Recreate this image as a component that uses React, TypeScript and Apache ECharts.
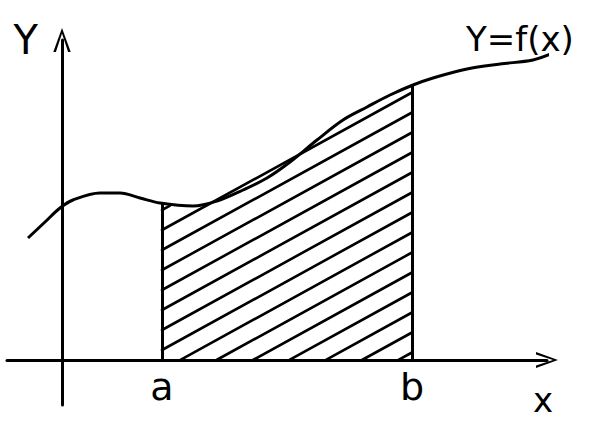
import { useEffect, useRef } from "react";
import * as echarts from "echarts";

// Curve y = f(x) (units: origin at axes crossing)
const curveX = [-0.68, -0.34, -0.04, 0.22, 0.76, 1.16, 1.56, 1.96, 2.62, 3.1, 3.62, 4.1, 4.56, 5.1, 5.62, 6.1, 6.56, 7.02, 7.42, 8.1, 8.76, 9.42, 9.82, 10.22, 10.62];
const curveY = [2.44, 2.76, 3.04, 3.2, 3.34, 3.34, 3.24, 3.14, 3.08, 3.18, 3.4, 3.64, 3.96, 4.4, 4.8, 5.06, 5.3, 5.5, 5.64, 5.82, 5.92, 6.0, 6.14, 6.36, 6.64];

// Integration bounds and their labels
const boundValues = [2, 7];
const boundLabels = ["a", "b"];
const xAxisName = "x";
const yAxisName = "Y";
const curveName = "Y=f(x)";

const FONT = "DejaVu Sans";

function f(x: number): number {
  for (let i = 0; i < curveX.length - 1; i++) {
    if (x >= curveX[i] && x <= curveX[i + 1]) {
      const t = (x - curveX[i]) / (curveX[i + 1] - curveX[i]);
      return curveY[i] + t * (curveY[i + 1] - curveY[i]);
    }
  }
  return x < curveX[0] ? curveY[0] : curveY[curveY.length - 1];
}

// Hatching of the region a <= x <= b, 0 <= y <= f(x)
function hatchSegments(): number[][] {
  const a = boundValues[0];
  const b = boundValues[1];
  const slope = 0.55;
  const step = 0.4;
  const segs: number[][] = [];
  for (let c = -2.6; c < f(a); c += step) {
    let x0: number | null = null;
    let x1: number | null = null;
    for (let i = 0; i <= 500; i++) {
      const x = a + ((b - a) * i) / 500;
      const y = c + slope * (x - a);
      if (y >= 0 && y <= f(x) - 0.03) {
        if (x0 === null) x0 = x;
        x1 = x;
      }
    }
    if (x0 !== null && x1 !== null && x1 - x0 > 0.05) {
      segs.push([x0, c + slope * (x0 - a), x1, c + slope * (x1 - a)]);
    }
  }
  return segs;
}

const chevron = "path://M8,0 L16,22 L13.6,22 L8,5 L2.4,22 L0,22 Z";

export default function App() {
  const ref = useRef<HTMLDivElement>(null);
  useEffect(() => {
    if (!ref.current) return;
    const chart = echarts.init(ref.current, undefined, { renderer: "svg" });
    const curveData = curveX.map((x, i) => [x, curveY[i]]);
    const boundLines = boundValues.map((v, i) => [
      { coord: [v, 0], name: boundLabels[i] },
      { coord: [v, f(v)] },
    ]);
    chart.setOption({
      animation: false,
      backgroundColor: "#fff",
      grid: {
        left: 7,
        right: 52,
        top: 40,
        bottom: 17,
        containLabel: false,
        outerBoundsMode: "none",
      },
      xAxis: {
        type: "value",
        min: -1.1,
        max: 9.7,
        splitLine: { show: false },
        axisTick: { show: false },
        axisLabel: { show: false },
        axisLine: {
          show: true,
          onZero: true,
          lineStyle: { color: "#000", width: 3 },
          symbol: ["none", chevron],
          symbolSize: [18, 22],
        },
      },
      yAxis: {
        type: "value",
        min: -0.9,
        max: 6.4,
        name: yAxisName,
        nameLocation: "end",
        nameGap: 0,
        nameTextStyle: {
          fontFamily: FONT,
          fontSize: 40,
          color: "#000",
          align: "right",
          verticalAlign: "middle",
          padding: [0, 24, 0, 0],
        },
        splitLine: { show: false },
        axisTick: { show: false },
        axisLabel: { show: false },
        axisLine: {
          show: true,
          onZero: true,
          lineStyle: { color: "#000", width: 3 },
          symbol: ["none", chevron],
          symbolSize: [18, 24],
        },
      },
      graphic: [
        {
          type: "text",
          left: 466,
          top: 22,
          style: {
            text: curveName,
            fontFamily: FONT,
            fontSize: 34,
            fill: "#000",
          },
        },
        {
          type: "text",
          x: 543,
          y: 400,
          style: {
            text: xAxisName,
            fontFamily: FONT,
            fontSize: 34,
            fill: "#000",
            align: "center",
            verticalAlign: "middle",
          },
        },
      ],
      series: [
        {
          type: "custom",
          clip: false,
          data: hatchSegments(),
          encode: { x: [0, 2], y: [1, 3] },
          renderItem: (_params: any, api: any) => {
            const p1 = api.coord([api.value(0), api.value(1)]);
            const p2 = api.coord([api.value(2), api.value(3)]);
            return {
              type: "line",
              shape: { x1: p1[0], y1: p1[1], x2: p2[0], y2: p2[1] },
              style: { stroke: "#000", lineWidth: 2.6, lineCap: "round" },
            };
          },
          silent: true,
        },
        {
          type: "line",
          data: curveData,
          smooth: 0.35,
          showSymbol: false,
          clip: false,
          silent: true,
          lineStyle: { color: "#000", width: 3 },
          markLine: {
            silent: true,
            symbol: ["none", "none"],
            label: {
              show: true,
              position: "start",
              formatter: "{b}",
              distance: 8,
              fontFamily: FONT,
              fontSize: 38,
              color: "#000",
            },
            lineStyle: { color: "#000", width: 3, type: "solid" },
            data: boundLines,
          },
        },
      ],
    });
    return () => chart.dispose();
  }, []);
  return (
    <div
      ref={ref}
      style={{ position: "fixed", left: 0, top: 0, width: 599, height: 422 }}
    />
  );
}
